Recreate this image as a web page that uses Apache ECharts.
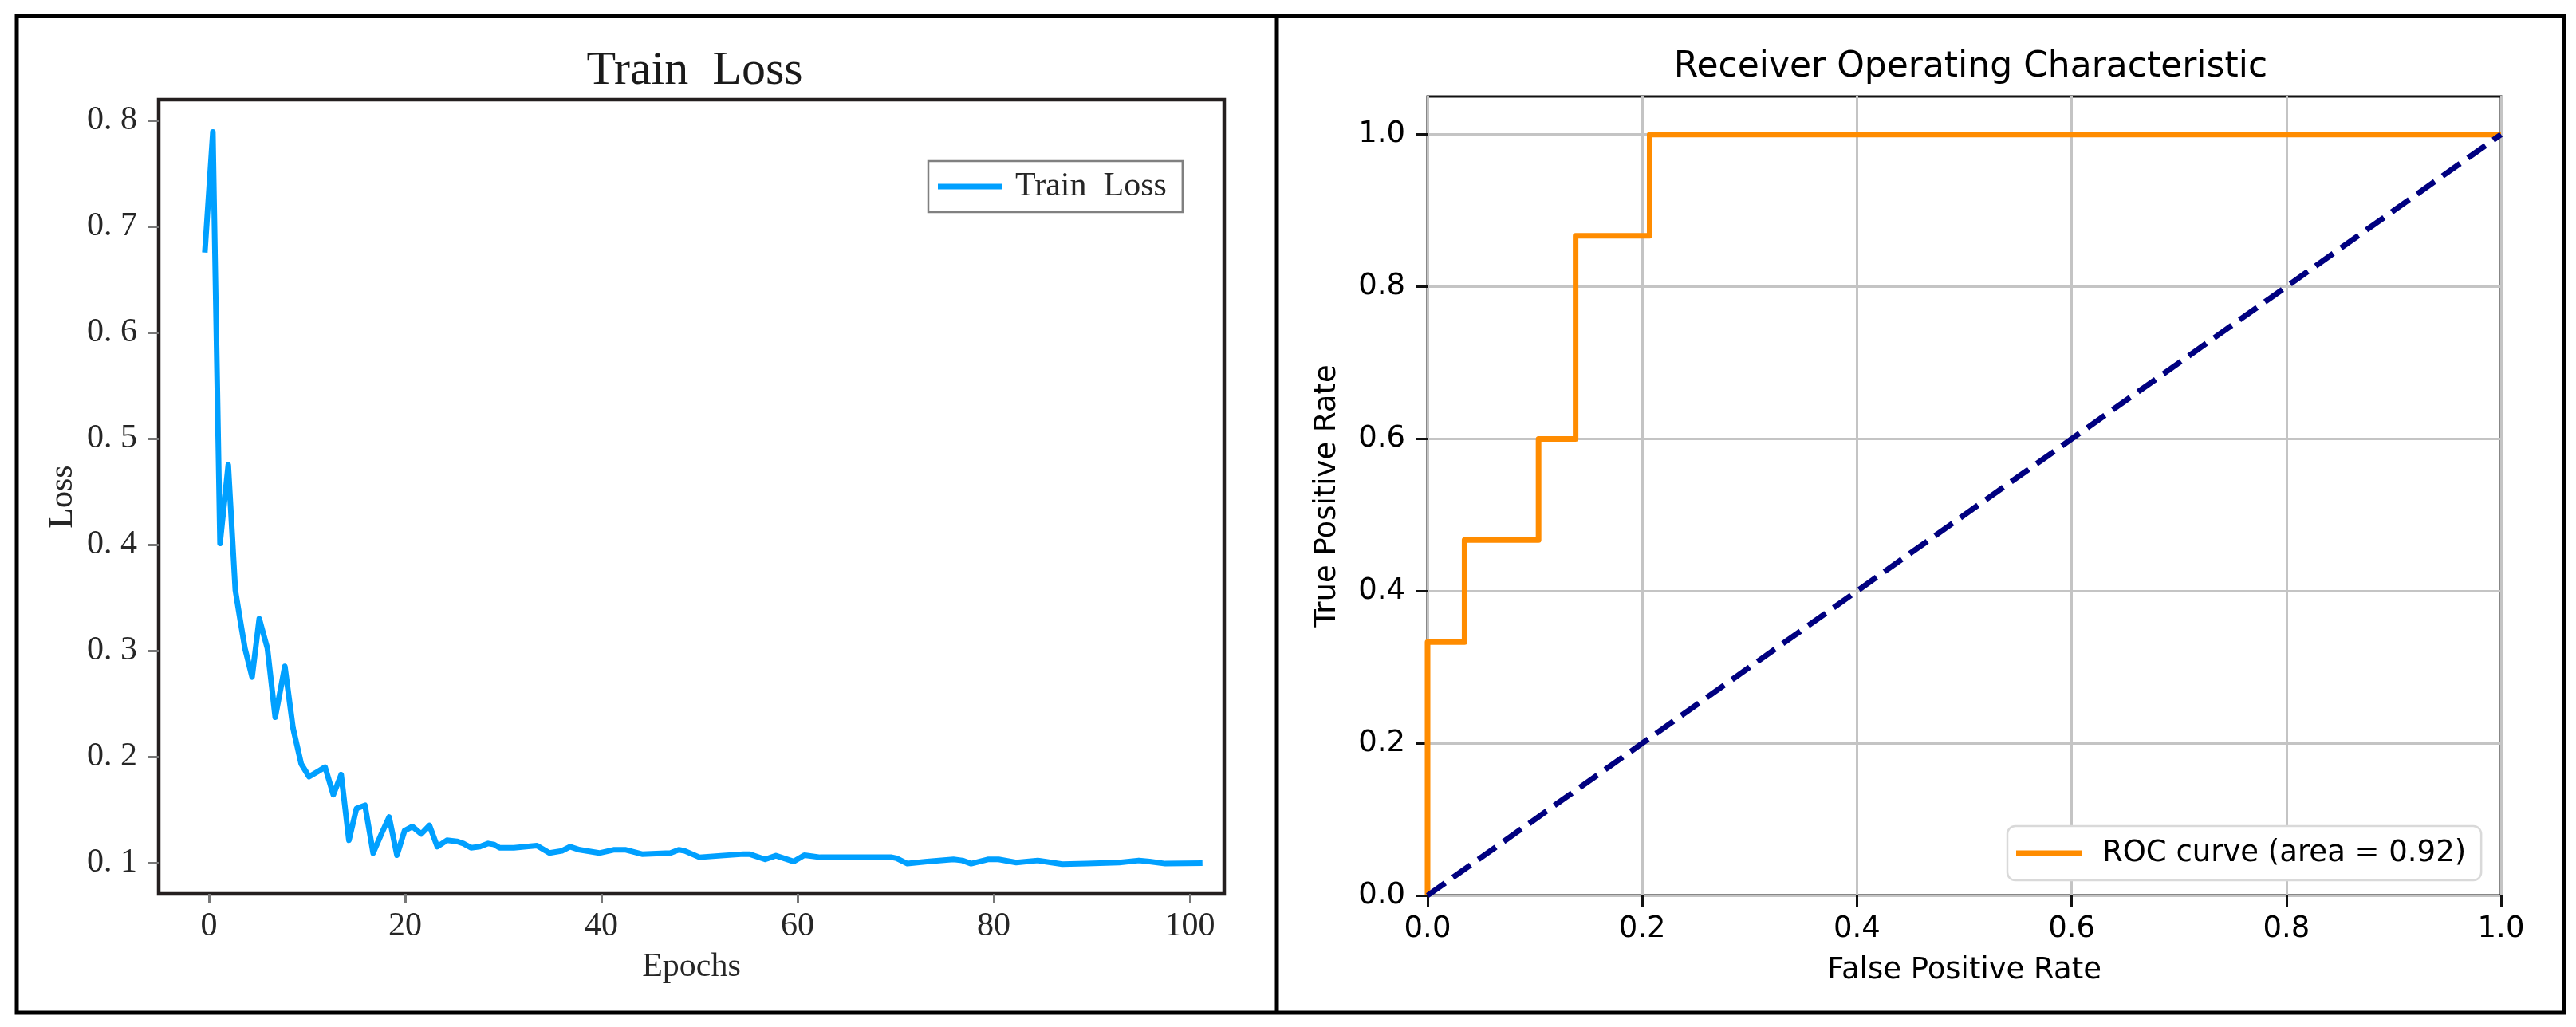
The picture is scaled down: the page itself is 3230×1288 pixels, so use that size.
<!DOCTYPE html>
<html><head><meta charset="utf-8">
<script src="https://cdn.jsdelivr.net/npm/echarts@6/dist/echarts.min.js"></script>
<style>html,body{margin:0;padding:0;background:#fff}#c{width:3230px;height:1288px}</style>
</head><body><div id="c"></div>
<script>
// ---- Train Loss data ----
const lossEpochs = [-0.4,0.4,1.13,1.97,2.69,3.2,3.67,4.4,5.13,5.96,6.76,7.74,8.57,9.41,10.21,11.12,11.84,12.68,13.48,14.27,15.04,15.91,16.74,17.58,18.37,19.17,19.94,20.73,21.64,22.48,23.28,24.26,25.27,25.93,26.72,27.63,28.47,29.08,29.63,31.08,32.35,33.44,34.71,35.98,36.81,37.8,39.79,41.24,42.51,44.15,47.05,47.9,48.5,50.0,52.2,54.5,55.1,56.7,57.8,59.6,60.7,62.3,69.6,70.1,71.2,73.2,75.9,76.8,77.7,79.4,80.5,82.3,84.5,85.2,87.0,89.5,92.8,94.8,95.9,97.5,101.0];
const lossValues = [0.678,0.789,0.401,0.475,0.357,0.328,0.302,0.275,0.330,0.302,0.237,0.285,0.227,0.193,0.181,0.186,0.190,0.164,0.183,0.121,0.151,0.154,0.109,0.127,0.143,0.107,0.130,0.134,0.127,0.135,0.115,0.121,0.120,0.118,0.114,0.115,0.118,0.117,0.114,0.114,0.115,0.116,0.109,0.111,0.115,0.112,0.109,0.112,0.112,0.108,0.109,0.112,0.111,0.105,0.1065,0.108,0.108,0.103,0.1065,0.101,0.107,0.105,0.105,0.104,0.099,0.101,0.103,0.102,0.099,0.103,0.103,0.100,0.102,0.101,0.0985,0.099,0.100,0.102,0.101,0.099,0.0995];
const lossXTicks = [0,20,40,60,80,100];
const lossYTicks = [0.1,0.2,0.3,0.4,0.5,0.6,0.7,0.8];

// ---- ROC data ----
const rocFpr = [0,0,0.0345,0.0345,0.1034,0.1034,0.1379,0.1379,0.2069,0.2069,1];
const rocTpr = [0,0.333,0.333,0.467,0.467,0.6,0.6,0.867,0.867,1,1];
const chanceFpr = [0,1];
const chanceTpr = [0,1];
const rocTicks = [0,0.2,0.4,0.6,0.8,1.0];

const serif = "'Liberation Serif','Times New Roman',serif";
const sans = "'DejaVu Sans',sans-serif";

const lossData = lossEpochs.map((e,i)=>[e,lossValues[i]]);
const rocData = rocFpr.map((f,i)=>[f,rocTpr[i]]);
const chanceData = chanceFpr.map((f,i)=>[f,chanceTpr[i]]);

const chart = echarts.init(document.getElementById('c'), null, {renderer:'canvas'});
chart.setOption({
  animation:false,
  backgroundColor:'#fff',
  title:[
    {text:'Train  Loss', left:866, top:54, textAlign:'center',
     textStyle:{fontFamily:serif, fontSize:60, fontWeight:'normal', color:'#1a1a1a'}},
    {text:'Receiver Operating Characteristic', left:2466, top:58, textAlign:'center',
     textStyle:{fontFamily:sans, fontSize:44, fontWeight:'normal', color:'#000'}}
  ],
  legend:[
    {data:[{name:'Train Loss', icon:'rect'}], left:1164, top:202, itemWidth:80, itemHeight:7,
     formatter:()=> 'Train  Loss',
     borderColor:'#808080', borderWidth:2.5, backgroundColor:'#fff', padding:[8,20,8,12],
     textStyle:{fontFamily:serif, fontSize:42, color:'#262626', lineHeight:48, padding:[0,0,0,12]}},
    {data:[{name:'ROC curve (area = 0.92)', icon:'rect'}], left:2517, top:1036, itemWidth:82, itemHeight:7,
     borderColor:'#d9d9d9', borderWidth:2.5, borderRadius:10, backgroundColor:'#fff', padding:[13,19,13,11],
     textStyle:{fontFamily:sans, fontSize:37, color:'#000', lineHeight:42, padding:[0,0,0,21]}}
  ],
  grid:[
    {left:199, top:125, width:1336, height:996, show:true, borderColor:'#241f1f', borderWidth:4.5, backgroundColor:'transparent', containLabel:false, outerBoundsMode:'none'},
    {left:1790, top:121, width:1346, height:1002, show:true, borderColor:'#111', borderWidth:3, backgroundColor:'transparent', containLabel:false, outerBoundsMode:'none'}
  ],
  xAxis:[
    {type:'value', gridIndex:0, min:-5.12, max:103.5, axisLine:{show:false, onZero:false}, splitLine:{show:false},
     axisTick:{show:true, customValues:lossXTicks, length:12, lineStyle:{color:'#777', width:3}},
     axisLabel:{customValues:lossXTicks, fontFamily:serif, fontSize:42, color:'#262626', margin:20},
     name:'Epochs', nameLocation:'middle', nameGap:71,
     nameTextStyle:{fontFamily:serif, fontSize:42, color:'#262626'}},
    {type:'value', gridIndex:1, min:0, max:1, interval:0.2, axisLine:{show:false, onZero:false},
     splitLine:{show:true, lineStyle:{color:'#c4c4c4', width:3}},
     axisTick:{show:true, customValues:rocTicks, length:15, lineStyle:{color:'#111', width:3}},
     axisLabel:{customValues:rocTicks, formatter:v=>v.toFixed(1), fontFamily:sans, fontSize:37, color:'#000', margin:24},
     name:'False Positive Rate', nameLocation:'middle', nameGap:76,
     nameTextStyle:{fontFamily:sans, fontSize:37, color:'#000'}}
  ],
  yAxis:[
    {type:'value', gridIndex:0, min:0.0705, max:0.8195, axisLine:{show:false, onZero:false}, splitLine:{show:false},
     axisTick:{show:true, customValues:lossYTicks, length:14, lineStyle:{color:'#777', width:3}},
     axisLabel:{customValues:lossYTicks, formatter:v=>v.toFixed(1).replace('.', '. '), fontFamily:serif, fontSize:42, color:'#262626', margin:27},
     name:'Loss', nameLocation:'middle', nameGap:99,
     nameTextStyle:{fontFamily:serif, fontSize:42, color:'#262626'}},
    {type:'value', gridIndex:1, min:0, max:1.05, interval:0.2, axisLine:{show:false, onZero:false},
     splitLine:{show:true, lineStyle:{color:'#c4c4c4', width:3}},
     axisTick:{show:true, customValues:rocTicks, length:15, lineStyle:{color:'#111', width:3}},
     axisLabel:{customValues:rocTicks, formatter:v=>v.toFixed(1), fontFamily:sans, fontSize:37, color:'#000', margin:28},
     name:'True Positive Rate', nameLocation:'middle', nameGap:107,
     nameTextStyle:{fontFamily:sans, fontSize:37, color:'#000'}}
  ],
  series:[
    {name:'Train Loss', type:'line', xAxisIndex:0, yAxisIndex:0, data:lossData, showSymbol:false, symbol:'none',
     color:'#00a0ff', lineStyle:{color:'#00a0ff', width:7, join:'round', cap:'square'}, itemStyle:{color:'#00a0ff'}},
    {name:'ROC curve (area = 0.92)', type:'line', xAxisIndex:1, yAxisIndex:1, data:rocData, showSymbol:false, symbol:'none',
     color:'#ff8c00', lineStyle:{color:'#ff8c00', width:7, join:'round'}, itemStyle:{color:'#ff8c00'}, clip:false},
    {name:'chance', type:'line', xAxisIndex:1, yAxisIndex:1, data:chanceData, showSymbol:false, symbol:'none',
     color:'#000080', lineStyle:{color:'#000080', width:7, type:[27,12]}, itemStyle:{color:'#000080'}, clip:false}
  ],
  graphic:[
    {type:'rect', shape:{x:21, y:20.5, width:3194, height:1249.5}, style:{fill:'none', stroke:'#000', lineWidth:5}, z:100},
    {type:'line', shape:{x1:1601, y1:20, x2:1601, y2:1270}, style:{stroke:'#000', lineWidth:5}, z:100}
  ]
});
</script></body></html>
